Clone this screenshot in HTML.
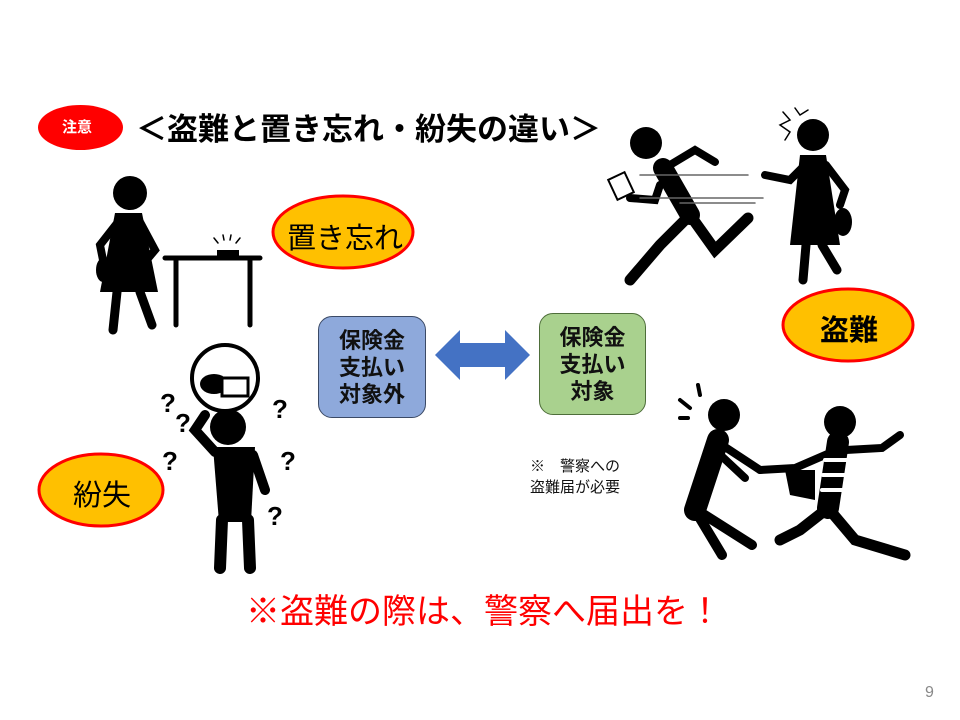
<!DOCTYPE html>
<html><head><meta charset="utf-8"><style>
body{margin:0;background:#fff;}
.s{position:relative;width:960px;height:720px;overflow:hidden;font-family:"Liberation Sans","Noto Sans CJK JP",sans-serif;}
.t{position:absolute;white-space:nowrap;}
.box{position:absolute;border-radius:14px;border:1.5px solid #3b4a66;box-sizing:border-box;text-align:center;font-weight:bold;font-size:22px;line-height:27px;padding-top:10px;color:#111;}
</style></head><body><div class="s">
<svg width="960" height="720" style="position:absolute;left:0;top:0">
<ellipse cx="80.5" cy="127.5" rx="42.5" ry="22.5" fill="#f00"/>
<ellipse cx="343" cy="232" rx="70" ry="36" fill="#FFC000" stroke="#f00" stroke-width="3"/>
<ellipse cx="848" cy="325" rx="65" ry="36" fill="#FFC000" stroke="#f00" stroke-width="3"/>
<ellipse cx="101" cy="490" rx="62" ry="36" fill="#FFC000" stroke="#f00" stroke-width="3"/>
<polygon points="435,355 460,330 460,343 505,343 505,330 530,355 505,380 505,367 460,367 460,380" fill="#4472C4"/>
<g stroke="#000" stroke-linecap="round" fill="none">
<!-- left woman -->
<circle cx="130" cy="193" r="17" fill="#000" stroke="none"/>
<polygon points="115,213 142,213 158,292 100,292" fill="#000" stroke="none"/>
<path d="M117,292 L113,330 M140,292 L152,325" stroke-width="9"/>
<path d="M118,222 L100,245 L105,270 M140,222 L155,250 L145,262" stroke-width="8"/>
<ellipse cx="103" cy="270" rx="7" ry="12" fill="#000" stroke="none"/>
<path d="M165,258 L260,258 M176,258 L176,325 M250,258 L250,325" stroke-width="5"/>
<rect x="217" y="250" width="22" height="6" fill="#000" stroke="none"/>
<path d="M218,243 L214,238 M224,240 L223,235 M230,240 L231,235 M236,243 L240,238" stroke-width="1.5"/>
<!-- lost man -->
<circle cx="225" cy="378" r="33" fill="#fff" stroke-width="4"/>
<ellipse cx="214" cy="384" rx="14" ry="10" fill="#000" stroke="none"/>
<rect x="222" y="378" width="26" height="18" fill="#fff" stroke-width="3"/>
<circle cx="228" cy="427" r="18" fill="#000" stroke="none"/>
<polygon points="213,447 255,447 251,522 219,522" fill="#000" stroke="none"/>
<path d="M222,520 L220,568 M248,520 L250,568" stroke-width="12"/>
<path d="M215,452 L195,430 L205,415 M253,455 L265,490" stroke-width="10"/>
<!-- runner -->
<circle cx="646" cy="143" r="16" fill="#000" stroke="none"/>
<path d="M663,168 L690,215" stroke-width="20"/>
<path d="M690,215 L660,245 L630,280 M690,215 L715,250 L748,218" stroke-width="11"/>
<path d="M670,165 L695,150 L715,162 M660,185 L655,200 L630,198" stroke-width="8"/>
<rect x="612" y="175" width="18" height="22" fill="#fff" stroke-width="2" transform="rotate(-25 621 186)"/>
<path d="M640,175 L748,175 M640,198 L763,198 M680,203 L755,203" stroke="#666" stroke-width="1.5"/>
<!-- woman right -->
<circle cx="813" cy="135" r="16" fill="#000" stroke="none"/>
<polygon points="800,155 826,155 840,245 790,245" fill="#000" stroke="none"/>
<path d="M806,245 L803,280 M822,245 L837,270" stroke-width="9"/>
<path d="M805,165 L790,180 L765,175 M826,165 L845,190 L840,205" stroke-width="8"/>
<ellipse cx="843" cy="222" rx="9" ry="14" fill="#000" stroke="none"/>
<path d="M783,112 L790,120 L780,125 L790,132 L785,140 M795,108 L800,115 L808,110" stroke-width="1.5"/>
<!-- bottom scene -->
<circle cx="724" cy="415" r="16" fill="#000" stroke="none"/>
<path d="M718,440 L695,510" stroke-width="22"/>
<path d="M695,510 L722,555 M700,512 L752,545" stroke-width="10"/>
<path d="M722,445 L760,470 M715,450 L745,478" stroke-width="8"/>
<path d="M690,408 L680,400 M700,395 L698,385 M688,418 L680,418" stroke-width="4"/>
<circle cx="840" cy="422" r="16" fill="#000" stroke="none"/>
<path d="M838,442 L828,508" stroke-width="22"/>
<path d="M846,450 L882,448 L900,435 M832,452 L795,468 L760,470" stroke-width="8"/>
<path d="M828,508 L800,530 L780,540 M828,508 L855,540 L905,555" stroke-width="11"/>
<path d="M825,460 L852,460 M823,475 L850,475 M822,490 L848,490" stroke="#fff" stroke-width="4"/>
<polygon points="785,470 815,470 815,500 790,495" fill="#000" stroke="none"/>
</g>
<g font-family="Liberation Sans,Noto Sans CJK JP,sans-serif" font-weight="bold" font-size="26" fill="#000">
<text x="160" y="412">?</text><text x="175" y="432">?</text><text x="162" y="470">?</text><text x="272" y="418">?</text><text x="280" y="470">?</text><text x="267" y="525">?</text>
</g>
</svg>
<div class="t" style="left:62px;top:116px;font-size:15px;font-weight:bold;color:#fff">注意</div>
<div class="t" style="left:136px;top:104px;font-size:31px;font-weight:bold;color:#000">＜盗難と置き忘れ・紛失の違い＞</div>
<div class="t" style="left:287px;top:215px;font-size:29px;color:#000">置き忘れ</div>
<div class="t" style="left:820px;top:307px;font-size:29px;font-weight:bold;color:#000">盗難</div>
<div class="t" style="left:73px;top:472px;font-size:29px;color:#000">紛失</div>
<div class="box" style="left:318px;top:316px;width:108px;height:102px;background:#8EA9DB">保険金<br>支払い<br>対象外</div>
<div class="box" style="left:539px;top:313px;width:107px;height:102px;background:#A9D18E;border-color:#4e6e3a">保険金<br>支払い<br>対象</div>
<div class="t" style="left:530px;top:456px;font-size:15px;line-height:21px;color:#111">※　警察への<br>盗難届が必要</div>
<div class="t" style="left:246px;top:584px;font-size:34px;color:#f00">※盗難の際は、警察へ届出を！</div>
<div class="t" style="left:925px;top:684px;font-size:16px;color:#888">9</div>
</div></body></html>
